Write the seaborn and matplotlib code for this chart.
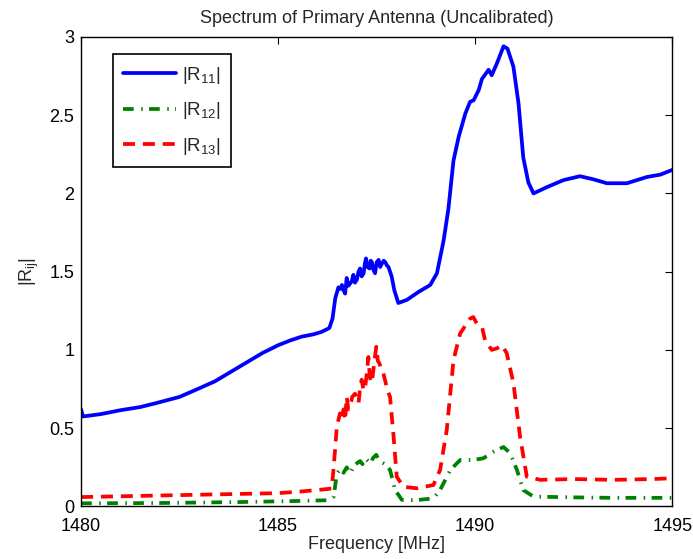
import numpy as np
import pandas as pd
import seaborn as sns
import matplotlib
matplotlib.use("Agg")
import matplotlib.pyplot as plt

# veriler
f11 = [1480.0, 1480.05, 1480.5, 1481.0, 1481.5, 1481.9, 1482.5, 1483.0, 1483.4, 1483.8,
       1484.2, 1484.6, 1485.0, 1485.3, 1485.6, 1485.9, 1486.1, 1486.3, 1486.38, 1486.45,
       1486.53, 1486.58, 1486.62, 1486.66, 1486.70, 1486.74, 1486.78, 1486.83, 1486.87, 1486.91,
       1486.95, 1487.0, 1487.04, 1487.08, 1487.12, 1487.17, 1487.20, 1487.23, 1487.27, 1487.32,
       1487.35, 1487.38, 1487.42, 1487.46, 1487.50, 1487.55, 1487.59, 1487.63, 1487.68, 1487.72,
       1487.76, 1487.80, 1487.88, 1487.95, 1488.05, 1488.27, 1488.56, 1488.86, 1489.03, 1489.20,
       1489.32, 1489.45, 1489.58, 1489.75, 1489.87, 1489.96, 1490.09, 1490.17, 1490.34, 1490.42,
       1490.55, 1490.72, 1490.82, 1490.97, 1491.10, 1491.22, 1491.35, 1491.48, 1491.82, 1492.24,
       1492.66, 1493.0, 1493.34, 1493.85, 1494.36, 1494.7, 1495.0]
r11 = [0.62, 0.575, 0.59, 0.615, 0.635, 0.66, 0.70, 0.755, 0.80, 0.86,
       0.92, 0.98, 1.03, 1.06, 1.085, 1.10, 1.115, 1.14, 1.20, 1.33,
       1.40, 1.39, 1.415, 1.38, 1.36, 1.46, 1.41, 1.425, 1.44, 1.48,
       1.43, 1.45, 1.50, 1.52, 1.47, 1.49, 1.55, 1.585, 1.53, 1.52,
       1.57, 1.56, 1.51, 1.49, 1.56, 1.575, 1.53, 1.55, 1.57, 1.56,
       1.54, 1.53, 1.47, 1.38, 1.30, 1.32, 1.37, 1.415, 1.49, 1.70,
       1.90, 2.21, 2.36, 2.51, 2.585, 2.595, 2.66, 2.73, 2.79, 2.755,
       2.83, 2.94, 2.925, 2.81, 2.575, 2.23, 2.07, 2.00, 2.04, 2.085,
       2.11, 2.09, 2.065, 2.065, 2.105, 2.12, 2.15]

f12 = [1480.0, 1482.0, 1484.0, 1485.5, 1486.3, 1486.41, 1486.49, 1486.58, 1486.66, 1486.74,
       1486.83, 1486.92, 1487.0, 1487.08, 1487.14, 1487.21, 1487.28, 1487.34, 1487.41, 1487.49,
       1487.57, 1487.67, 1487.76, 1487.84, 1487.97, 1488.14, 1488.5, 1488.94, 1489.11, 1489.37,
       1489.62, 1489.96, 1490.21, 1490.47, 1490.72, 1490.89, 1491.06, 1491.22, 1491.48, 1492.5,
       1493.5, 1494.5, 1495.0]
r12 = [0.02, 0.022, 0.028, 0.035, 0.04, 0.063, 0.21, 0.24, 0.215, 0.25,
       0.21, 0.26, 0.276, 0.29, 0.27, 0.308, 0.29, 0.276, 0.31, 0.33,
       0.29, 0.276, 0.26, 0.233, 0.105, 0.042, 0.04, 0.052, 0.105, 0.233,
       0.297, 0.297, 0.308, 0.35, 0.38, 0.34, 0.233, 0.105, 0.063, 0.058,
       0.055, 0.055, 0.055]

f13 = [1480.0, 1481.0, 1482.0, 1483.0, 1484.0, 1485.0, 1485.56, 1486.2, 1486.36, 1486.41,
       1486.49, 1486.57, 1486.62, 1486.66, 1486.70, 1486.74, 1486.78, 1486.83, 1486.88, 1486.95,
       1487.0, 1487.04, 1487.08, 1487.12, 1487.17, 1487.21, 1487.25, 1487.29, 1487.33, 1487.38,
       1487.43, 1487.49, 1487.53, 1487.57, 1487.62, 1487.67, 1487.72, 1487.77, 1487.84, 1487.93,
       1488.01, 1488.18, 1488.52, 1488.94, 1489.11, 1489.28, 1489.45, 1489.62, 1489.87, 1489.95,
       1490.04, 1490.17, 1490.25, 1490.42, 1490.55, 1490.68, 1490.80, 1490.97, 1491.14, 1491.31,
       1491.65, 1492.5, 1493.5, 1494.5, 1495.0]
r13 = [0.06, 0.065, 0.07, 0.075, 0.08, 0.085, 0.095, 0.11, 0.115, 0.25,
       0.51, 0.595, 0.56, 0.62, 0.55, 0.70, 0.62, 0.64, 0.70, 0.72,
       0.68, 0.66, 0.76, 0.81, 0.74, 0.765, 0.85, 0.955, 0.82, 0.79,
       0.90, 1.02, 0.93, 0.915, 0.87, 0.85, 0.80, 0.745, 0.70, 0.445,
       0.19, 0.126, 0.116, 0.137, 0.233, 0.49, 0.935, 1.106, 1.20, 1.21,
       1.17, 1.15, 1.063, 1.00, 1.01, 1.03, 0.98, 0.79, 0.445, 0.19,
       0.17, 0.175, 0.17, 0.175, 0.18]

xticks = [1480, 1485, 1490, 1495]
yticks = [0, 0.5, 1, 1.5, 2, 2.5, 3]
ytick_labels = ["0", "0.5", "1", "1.5", "2", "2.5", "3"]

sns.set_style("white")
plt.rcParams['font.family'] = ['Liberation Sans', 'DejaVu Sans']

fig = plt.figure(figsize=(6.93, 5.59), dpi=100)
ax = fig.add_axes([0.117, 0.094, 0.853, 0.840])

lw = 2.7
sns.lineplot(x=f11, y=r11, ax=ax, color="#0000ff", lw=lw, label=r"$\mathregular{|R_{11}|}$")
sns.lineplot(x=f12, y=r12, ax=ax, color="#008000", lw=lw,
             linestyle=(0, (2.85, 2.0, 0.4, 1.7)), label=r"$\mathregular{|R_{12}|}$")
sns.lineplot(x=f13, y=r13, ax=ax, color="#ff0000", lw=lw,
             linestyle=(0, (3.2, 2.1)), label=r"$\mathregular{|R_{13}|}$")

ax.set_xlim(1480, 1495)
ax.set_ylim(0, 3)
ax.set_xticks(xticks)
ax.set_xticklabels([str(t) for t in xticks])
ax.set_yticks(yticks)
ax.set_yticklabels(ytick_labels)
ax.tick_params(direction="in", length=5, width=0.8, top=True, right=True,
               labelsize=13, colors="black")
ax.tick_params(axis="x", pad=8)
ax.tick_params(axis="y", pad=5)
for s in ax.spines.values():
    s.set_visible(True)
    s.set_color("black")
    s.set_linewidth(1.0)

ax.set_title("Spectrum of Primary Antenna (Uncalibrated)", fontsize=13, pad=10)
ax.set_xlabel("Frequency [MHz]", fontsize=13, labelpad=1)
ax.set_ylabel(r"$\mathregular{|R_{ij}|}$", fontsize=13, labelpad=6)

leg = ax.legend(loc="upper left", bbox_to_anchor=(0.0536, 0.9626), borderaxespad=0,
                fancybox=False, framealpha=1, edgecolor="black", handlelength=2.8,
                labelspacing=0.78, fontsize=13.5, borderpad=0.55, handletextpad=0.35)
leg.get_frame().set_linewidth(1.2)

fig.savefig("out.png", dpi=100)
